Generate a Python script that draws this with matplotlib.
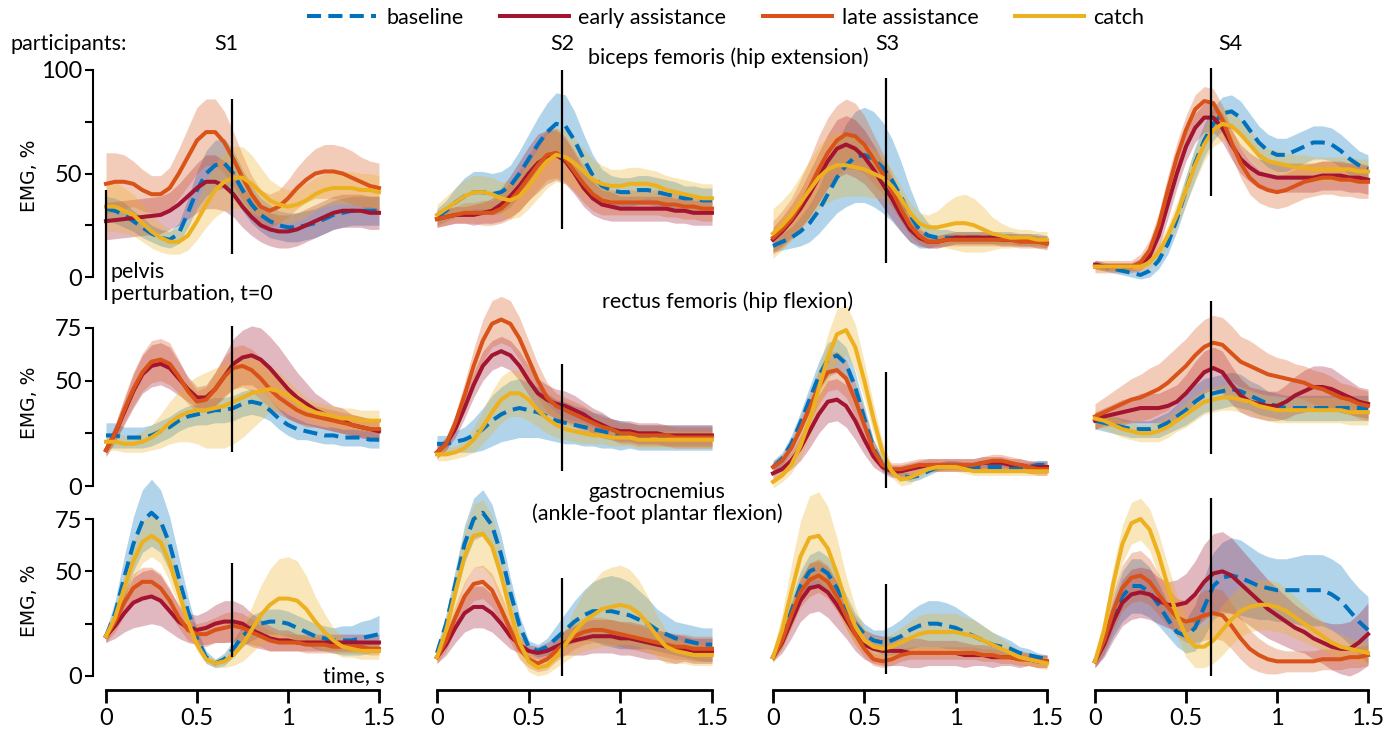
import numpy as np
import matplotlib.pyplot as plt

plt.rcParams['font.family'] = ['Lato', 'DejaVu Sans']

# time grid of the averaged EMG envelopes, s
t = np.linspace(0, 1.5, 31)

participants = ['S1', 'S2', 'S3', 'S4']
conditions = ['baseline', 'early assistance', 'late assistance', 'catch']
colors = ['#0072BD', '#A2142F', '#D95319', '#EDB120']

# ---- biceps femoris (hip extension): mean and sd per participant ----
bf_base = [
    [33, 32, 30, 27, 24, 21, 19, 18, 21, 31, 42, 50, 54, 55, 50, 42, 35, 30, 27, 25, 24, 24, 25, 26, 28, 30, 31, 32, 32, 32, 32],
    [29, 32, 36, 39, 41, 41, 40, 41, 44, 50, 57, 64, 70, 74, 73, 66, 57, 49, 44, 42, 41, 41, 42, 42, 41, 40, 39, 38, 38, 37, 37],
    [15, 17, 19, 22, 26, 32, 40, 48, 54, 58, 59, 57, 53, 47, 39, 30, 23, 20, 19, 19, 19, 19, 19, 19, 19, 19, 19, 18, 18, 18, 17],
    [6, 5, 4, 3, 2, 1, 3, 8, 16, 28, 42, 55, 66, 74, 79, 80, 77, 71, 65, 61, 59, 59, 61, 63, 65, 65, 64, 61, 57, 54, 52],
]
bf_base_sd = [
    [6, 6, 6, 5, 5, 4, 4, 4, 5, 7, 9, 11, 12, 12, 11, 10, 9, 8, 8, 7, 7, 7, 7, 7, 7, 7, 7, 7, 7, 7, 7],
    [4, 5, 7, 9, 10, 10, 10, 10, 10, 11, 12, 13, 14, 15, 15, 14, 12, 10, 8, 7, 7, 7, 7, 7, 7, 7, 7, 6, 6, 6, 6],
    [3, 4, 5, 7, 9, 11, 14, 17, 20, 22, 23, 23, 22, 20, 17, 13, 9, 6, 4, 4, 3, 3, 3, 3, 3, 3, 3, 3, 3, 3, 3],
    [2, 2, 2, 2, 2, 2, 3, 4, 5, 6, 7, 8, 8, 8, 8, 8, 8, 8, 8, 8, 8, 8, 8, 8, 8, 8, 8, 8, 8, 7, 7],
]
bf_early = [
    [27, 27.5, 28, 28.5, 29, 29.5, 30, 32, 35, 39, 43, 46, 46, 44, 40, 34, 29, 25, 23, 22, 22, 23, 25, 27, 29, 31, 32, 32, 32, 31, 31],
    [28, 29, 30, 30, 30, 31, 32, 35, 39, 44, 50, 55, 58, 59, 56, 50, 43, 38, 35, 34, 33, 33, 33, 33, 33, 33, 32, 32, 31, 31, 31],
    [18, 22, 27, 33, 40, 48, 56, 62, 64, 62, 58, 52, 45, 38, 30, 23, 19, 17, 17, 18, 19, 19, 19, 19, 19, 18, 18, 18, 18, 17, 17],
    [6, 5, 5, 5, 5, 6, 10, 20, 35, 50, 63, 72, 77, 77, 72, 64, 57, 53, 50, 49, 48, 48, 48, 48, 48, 49, 49, 49, 48, 48, 47],
]
bf_early_sd = [
    [9, 9, 9, 9, 9, 9, 9, 9, 10, 11, 12, 13, 13, 12, 11, 10, 9, 8, 8, 8, 8, 8, 8, 8, 8, 8, 8, 8, 8, 8, 8],
    [4, 4, 4, 4, 5, 5, 6, 8, 10, 12, 13, 14, 13, 12, 11, 10, 9, 8, 7, 7, 6, 6, 6, 6, 6, 6, 6, 6, 6, 6, 6],
    [6, 7, 8, 9, 11, 12, 13, 14, 14, 14, 13, 12, 11, 10, 8, 6, 4, 3, 3, 3, 3, 3, 3, 3, 3, 3, 3, 3, 3, 3, 3],
    [2, 2, 2, 2, 2, 3, 4, 6, 7, 7, 7, 7, 7, 7, 7, 7, 7, 7, 7, 7, 7, 7, 7, 7, 7, 7, 7, 7, 7, 7, 7],
]
bf_late = [
    [45, 46, 46, 45, 42, 40, 40, 43, 50, 58, 66, 70, 70, 65, 57, 48, 40, 34, 32, 34, 38, 43, 47, 50, 51, 51, 50, 48, 46, 44, 43],
    [28, 29, 30, 31, 31, 31, 31, 33, 37, 42, 48, 54, 59, 60, 57, 51, 45, 40, 37, 36, 36, 36, 36, 36, 36, 35, 35, 34, 34, 33, 33],
    [19, 23, 28, 35, 43, 52, 60, 66, 69, 68, 64, 57, 50, 42, 33, 25, 20, 17, 17, 18, 18, 18, 18, 18, 18, 18, 18, 17, 17, 17, 16],
    [5, 5, 5, 5, 5, 7, 13, 25, 42, 58, 71, 81, 85, 84, 76, 65, 55, 48, 44, 42, 41, 42, 44, 46, 47, 48, 48, 47, 47, 46, 46],
]
bf_late_sd = [
    [15, 14, 13, 11, 10, 9, 9, 10, 12, 14, 16, 16, 16, 15, 13, 11, 9, 8, 8, 8, 9, 10, 11, 12, 13, 13, 13, 13, 12, 12, 12],
    [4, 4, 4, 5, 5, 6, 6, 7, 9, 10, 11, 12, 12, 12, 11, 10, 9, 8, 7, 6, 6, 6, 6, 6, 6, 6, 6, 6, 6, 6, 6],
    [8, 9, 10, 12, 14, 16, 17, 17, 17, 16, 14, 12, 10, 8, 6, 5, 4, 3, 3, 3, 3, 3, 3, 3, 3, 3, 3, 3, 3, 3, 3],
    [3, 3, 3, 3, 3, 4, 5, 6, 7, 7, 7, 7, 7, 7, 7, 7, 7, 8, 8, 8, 8, 8, 8, 8, 8, 8, 8, 8, 8, 8, 8],
]
bf_catch = [
    [34, 34, 32, 30, 26, 22, 19, 17, 17, 20, 27, 35, 42, 46, 48, 48, 45, 41, 37, 35, 34, 35, 37, 40, 42, 43, 43, 43, 42, 42, 41],
    [30, 33, 36, 39, 41, 41, 40, 38, 37, 39, 44, 50, 56, 59, 58, 55, 51, 47, 45, 44, 44, 45, 45, 45, 44, 42, 41, 40, 39, 38, 38],
    [21, 25, 30, 36, 42, 48, 52, 54, 54, 53, 52, 50, 48, 44, 38, 31, 26, 24, 24, 25, 26, 26, 25, 23, 21, 20, 19, 19, 19, 18, 18],
    [5, 5, 5, 5, 5, 5, 7, 12, 20, 30, 42, 54, 64, 71, 74, 73, 69, 64, 59, 56, 55, 54, 53, 53, 52, 52, 52, 52, 52, 51, 51],
]
bf_catch_sd = [
    [12, 12, 11, 10, 9, 8, 7, 6, 6, 7, 9, 11, 13, 14, 15, 15, 14, 12, 10, 9, 8, 8, 8, 8, 8, 8, 8, 8, 8, 8, 8],
    [5, 6, 7, 8, 8, 8, 8, 8, 9, 10, 11, 12, 13, 13, 13, 12, 11, 10, 9, 8, 8, 8, 8, 7, 7, 7, 7, 7, 7, 7, 7],
    [12, 12, 12, 13, 14, 15, 16, 16, 15, 14, 13, 12, 10, 8, 6, 5, 5, 6, 8, 11, 13, 14, 13, 11, 8, 6, 5, 4, 4, 4, 4],
    [2, 2, 2, 2, 2, 2, 3, 4, 5, 6, 7, 8, 8, 8, 8, 8, 7, 7, 6, 6, 6, 6, 6, 6, 6, 6, 6, 6, 6, 6, 6],
]

# ---- rectus femoris (hip flexion) ----
rf_base = [
    [24, 24, 23, 23, 23, 24, 26, 28, 31, 33, 34, 35, 36, 36, 37, 39, 40, 39, 36, 32, 29, 27, 26, 25, 24, 24, 23, 23, 23, 22, 22],
    [20, 20, 21, 22, 24, 27, 31, 34, 36, 37, 36, 35, 33, 31, 30, 29, 28, 27, 26, 25, 24, 24, 23, 23, 23, 23, 23, 23, 23, 23, 23],
    [9, 13, 20, 30, 41, 52, 60, 62, 58, 47, 32, 18, 10, 7, 5, 4, 5, 7, 9, 10, 10, 9, 9, 9, 9, 9, 9, 9, 9, 10, 10],
    [31, 30, 29, 28, 27, 27, 27, 28, 30, 33, 36, 40, 43, 44, 45, 46, 45, 43, 41, 39, 38, 37, 37, 37, 37, 37, 37, 37, 37, 37, 37],
]
rf_base_sd = [
    [6, 6, 5, 5, 5, 5, 5, 5, 5, 5, 5, 6, 6, 6, 6, 6, 6, 6, 5, 5, 5, 5, 4, 4, 4, 4, 4, 4, 4, 4, 4],
    [4, 4, 5, 6, 8, 10, 12, 13, 14, 14, 13, 12, 11, 10, 10, 9, 9, 8, 8, 7, 7, 6, 6, 6, 6, 6, 6, 6, 6, 6, 6],
    [3, 3, 4, 5, 6, 7, 8, 8, 8, 7, 6, 4, 3, 2, 2, 2, 2, 2, 2, 2, 2, 2, 2, 2, 2, 2, 2, 2, 2, 2, 2],
    [4, 4, 4, 4, 4, 4, 4, 5, 5, 6, 7, 8, 8, 8, 8, 8, 8, 7, 7, 6, 6, 6, 6, 6, 6, 6, 6, 6, 6, 6, 6],
]
rf_early = [
    [17, 25, 35, 45, 53, 57, 58, 56, 51, 46, 42, 42, 46, 52, 58, 61, 62, 60, 56, 51, 46, 42, 39, 36, 34, 32, 31, 29, 28, 27, 26],
    [16, 20, 27, 37, 48, 57, 62, 64, 62, 57, 50, 44, 41, 39, 38, 36, 34, 31, 29, 27, 26, 26, 25, 25, 25, 24, 24, 24, 24, 24, 24],
    [6, 8, 12, 18, 26, 34, 40, 41, 38, 31, 22, 14, 9, 7, 7, 8, 9, 10, 10, 10, 10, 10, 10, 11, 11, 11, 10, 10, 9, 9, 9],
    [31, 33, 34, 35, 36, 37, 37, 37, 38, 40, 44, 49, 54, 56, 54, 48, 43, 40, 39, 38, 38, 40, 43, 45, 47, 47, 46, 44, 42, 40, 39],
]
rf_early_sd = [
    [3, 4, 6, 8, 9, 10, 10, 10, 8, 6, 5, 6, 8, 10, 12, 13, 14, 15, 15, 15, 14, 12, 10, 8, 7, 6, 6, 5, 5, 5, 5],
    [3, 3, 4, 5, 6, 7, 7, 7, 7, 7, 7, 7, 7, 7, 7, 7, 6, 6, 6, 5, 5, 5, 5, 5, 5, 5, 5, 5, 5, 5, 5],
    [3, 3, 4, 6, 8, 9, 10, 10, 10, 9, 7, 5, 3, 3, 3, 3, 3, 3, 3, 3, 3, 3, 3, 3, 3, 3, 3, 3, 3, 3, 3],
    [4, 4, 5, 6, 6, 7, 7, 7, 8, 8, 9, 10, 10, 10, 10, 9, 8, 7, 7, 7, 7, 8, 9, 10, 10, 10, 10, 9, 8, 7, 7],
]
rf_late = [
    [17, 25, 36, 46, 54, 59, 60, 58, 52, 45, 40, 41, 46, 52, 56, 57, 55, 51, 46, 42, 39, 36, 34, 33, 32, 31, 30, 29, 28, 27, 27],
    [16, 20, 30, 43, 57, 69, 77, 79, 77, 70, 60, 50, 42, 38, 36, 34, 32, 30, 28, 27, 25, 25, 24, 24, 24, 24, 23, 23, 23, 23, 23],
    [9, 12, 18, 27, 37, 47, 54, 55, 51, 41, 29, 17, 10, 8, 8, 9, 10, 10, 10, 10, 10, 10, 10, 11, 12, 12, 11, 10, 9, 8, 8],
    [33, 35, 37, 39, 41, 42, 44, 46, 49, 53, 57, 62, 66, 68, 67, 63, 59, 57, 55, 53, 52, 51, 50, 49, 47, 46, 44, 42, 41, 39, 38],
]
rf_late_sd = [
    [3, 4, 6, 8, 9, 10, 10, 10, 8, 6, 5, 6, 8, 9, 10, 10, 10, 10, 9, 8, 7, 6, 6, 5, 5, 5, 5, 5, 5, 5, 5],
    [3, 3, 4, 6, 8, 10, 11, 11, 11, 10, 9, 8, 7, 6, 6, 6, 6, 5, 5, 5, 5, 5, 5, 5, 5, 5, 5, 5, 5, 5, 5],
    [3, 3, 4, 6, 7, 8, 9, 9, 9, 8, 7, 5, 3, 3, 3, 3, 3, 3, 3, 3, 3, 3, 3, 3, 3, 3, 3, 3, 3, 3, 3],
    [6, 7, 8, 9, 10, 11, 12, 12, 13, 13, 13, 13, 13, 13, 13, 13, 12, 12, 11, 10, 9, 9, 8, 8, 8, 8, 8, 7, 7, 7, 7],
]
rf_catch = [
    [21, 21, 20, 20, 21, 23, 26, 30, 33, 35, 36, 36, 37, 38, 40, 42, 44, 45, 46, 45, 43, 40, 37, 35, 34, 33, 32, 32, 31, 31, 31],
    [15, 15, 16, 18, 22, 28, 35, 41, 44, 44, 41, 36, 32, 29, 27, 26, 25, 24, 24, 23, 23, 23, 22, 22, 22, 22, 22, 22, 22, 22, 22],
    [2, 5, 10, 19, 31, 46, 61, 72, 74, 66, 50, 32, 16, 7, 3, 4, 6, 8, 9, 9, 9, 8, 7, 7, 7, 7, 7, 7, 7, 7, 7],
    [32, 31, 29, 27, 26, 25, 25, 26, 28, 31, 34, 37, 40, 41, 42, 42, 41, 40, 38, 37, 36, 36, 36, 36, 36, 36, 36, 36, 35, 35, 35],
]
rf_catch_sd = [
    [4, 4, 4, 4, 5, 6, 8, 10, 12, 14, 16, 18, 19, 20, 20, 19, 17, 14, 11, 9, 7, 6, 5, 5, 5, 5, 5, 5, 5, 5, 5],
    [3, 3, 3, 4, 6, 8, 10, 11, 11, 11, 10, 8, 7, 6, 5, 5, 5, 4, 4, 4, 4, 4, 4, 4, 4, 4, 4, 4, 4, 4, 4],
    [3, 3, 4, 6, 8, 10, 11, 12, 12, 11, 9, 7, 5, 3, 3, 3, 2, 2, 2, 2, 2, 2, 2, 2, 2, 2, 2, 2, 2, 2, 2],
    [4, 4, 4, 4, 4, 4, 4, 5, 5, 5, 6, 6, 6, 6, 6, 6, 6, 6, 6, 6, 6, 6, 6, 6, 6, 6, 6, 6, 6, 6, 6],
]

# ---- gastrocnemius (ankle-foot plantar flexion) ----
gm_base = [
    [19, 30, 47, 63, 74, 78, 74, 63, 47, 31, 18, 9, 6, 8, 13, 19, 23, 25, 26, 26, 25, 23, 21, 19, 18, 17, 17, 17, 18, 19, 20],
    [11, 25, 44, 63, 75, 78, 72, 58, 40, 24, 14, 12, 14, 18, 22, 26, 29, 31, 31, 31, 30, 29, 27, 25, 22, 20, 18, 17, 16, 15, 15],
    [9, 18, 31, 43, 50, 52, 49, 42, 33, 25, 20, 17, 16, 17, 19, 22, 24, 25, 25, 24, 23, 21, 19, 17, 15, 14, 13, 11, 10, 9, 8],
    [7, 16, 28, 38, 43, 43, 40, 34, 27, 21, 19, 23, 33, 43, 47, 48, 47, 45, 43, 42, 41, 41, 41, 41, 41, 41, 39, 36, 31, 26, 22],
]
gm_base_sd = [
    [3, 6, 10, 13, 15, 16, 15, 13, 10, 7, 4, 3, 2, 3, 4, 5, 6, 6, 6, 6, 6, 6, 6, 6, 6, 6, 7, 7, 8, 8, 9],
    [3, 5, 7, 9, 10, 11, 10, 9, 7, 5, 3, 3, 4, 6, 8, 10, 12, 14, 16, 17, 17, 16, 14, 12, 10, 9, 8, 8, 8, 8, 8],
    [2, 4, 6, 7, 8, 8, 8, 7, 6, 5, 5, 5, 6, 7, 8, 9, 10, 11, 11, 11, 10, 9, 8, 7, 6, 5, 4, 3, 3, 2, 2],
    [3, 6, 9, 12, 13, 13, 12, 10, 8, 7, 8, 11, 14, 16, 17, 18, 18, 17, 16, 15, 15, 15, 16, 17, 17, 17, 17, 17, 16, 16, 16],
]
gm_early = [
    [19, 24, 30, 35, 37, 38, 36, 31, 26, 23, 22, 23, 25, 26, 26, 25, 22, 20, 18, 17, 17, 16, 16, 16, 16, 16, 16, 16, 16, 16, 16],
    [9, 15, 23, 30, 33, 33, 30, 25, 19, 15, 12, 11, 12, 14, 16, 17, 18, 19, 19, 19, 18, 18, 17, 16, 15, 14, 13, 13, 12, 12, 12],
    [9, 16, 26, 36, 42, 43, 40, 34, 27, 20, 15, 13, 12, 12, 12, 11, 11, 11, 11, 11, 11, 10, 10, 10, 9, 9, 9, 8, 8, 7, 7],
    [7, 15, 26, 35, 39, 40, 39, 36, 34, 34, 35, 39, 45, 49, 50, 48, 44, 40, 36, 32, 29, 26, 23, 21, 18, 16, 14, 13, 13, 16, 20],
]
gm_early_sd = [
    [3, 6, 9, 12, 13, 13, 12, 10, 8, 7, 7, 8, 9, 10, 10, 9, 8, 7, 6, 5, 5, 4, 4, 4, 4, 4, 4, 4, 4, 4, 4],
    [3, 5, 7, 9, 10, 10, 9, 8, 6, 4, 3, 3, 4, 5, 6, 7, 8, 8, 8, 8, 8, 8, 8, 8, 7, 7, 7, 6, 6, 6, 6],
    [2, 5, 8, 10, 12, 12, 12, 11, 9, 8, 7, 7, 7, 7, 7, 7, 7, 6, 6, 6, 6, 6, 5, 5, 5, 4, 4, 4, 3, 3, 3],
    [3, 6, 9, 11, 12, 12, 12, 11, 11, 12, 14, 16, 18, 19, 19, 18, 17, 16, 15, 14, 13, 12, 11, 10, 10, 10, 11, 12, 13, 14, 15],
]
gm_late = [
    [19, 26, 35, 42, 45, 45, 42, 36, 28, 22, 20, 20, 22, 23, 24, 23, 21, 19, 17, 16, 16, 16, 15, 15, 15, 14, 14, 14, 14, 13, 13],
    [9, 17, 28, 38, 44, 45, 41, 32, 22, 13, 8, 6, 8, 12, 16, 19, 21, 22, 22, 21, 20, 19, 18, 17, 16, 15, 14, 14, 13, 13, 13],
    [9, 17, 29, 40, 46, 48, 45, 38, 29, 20, 13, 8, 7, 8, 10, 11, 11, 11, 11, 11, 11, 11, 11, 10, 10, 9, 9, 8, 8, 7, 7],
    [7, 17, 31, 42, 47, 48, 45, 39, 33, 28, 26, 27, 29, 30, 29, 24, 18, 13, 10, 8, 7, 7, 7, 7, 7, 8, 8, 8, 9, 9, 10],
]
gm_late_sd = [
    [3, 5, 6, 7, 7, 7, 7, 6, 5, 5, 5, 6, 6, 7, 7, 7, 6, 5, 5, 4, 4, 4, 4, 4, 4, 3, 3, 3, 3, 3, 3],
    [3, 5, 6, 7, 8, 8, 8, 7, 6, 5, 4, 4, 5, 5, 6, 6, 6, 6, 6, 6, 6, 6, 6, 6, 6, 6, 6, 6, 6, 6, 6],
    [2, 4, 6, 7, 8, 8, 8, 7, 6, 5, 4, 3, 3, 3, 3, 3, 3, 3, 3, 3, 3, 3, 3, 3, 3, 3, 3, 3, 3, 3, 3],
    [3, 6, 9, 11, 12, 12, 11, 10, 9, 9, 10, 11, 12, 12, 12, 11, 10, 9, 8, 7, 6, 5, 5, 5, 5, 5, 5, 5, 5, 5, 5],
]
gm_catch = [
    [19, 28, 42, 55, 64, 67, 64, 54, 40, 26, 15, 8, 6, 7, 10, 15, 22, 29, 34, 37, 37, 36, 32, 26, 21, 17, 14, 13, 12, 12, 12],
    [9, 22, 40, 57, 67, 68, 62, 48, 31, 16, 7, 4, 5, 9, 15, 21, 26, 29, 32, 33, 34, 33, 30, 25, 19, 14, 12, 11, 10, 10, 10],
    [9, 22, 40, 57, 66, 67, 61, 49, 35, 24, 17, 14, 13, 14, 16, 18, 20, 21, 21, 21, 21, 20, 19, 17, 15, 13, 11, 9, 8, 7, 6],
    [7, 22, 44, 63, 73, 75, 70, 58, 43, 29, 19, 14, 14, 17, 22, 27, 31, 33, 34, 34, 33, 31, 28, 25, 22, 19, 16, 14, 13, 12, 11],
]
gm_catch_sd = [
    [3, 5, 7, 9, 10, 10, 10, 9, 7, 5, 3, 2, 2, 3, 5, 8, 11, 14, 17, 19, 20, 19, 16, 12, 9, 6, 5, 4, 4, 4, 4],
    [3, 6, 10, 13, 15, 16, 15, 13, 10, 7, 5, 4, 4, 5, 8, 11, 14, 16, 18, 19, 19, 18, 16, 13, 10, 8, 6, 5, 5, 5, 5],
    [3, 8, 13, 17, 20, 21, 20, 17, 13, 9, 6, 5, 5, 6, 7, 8, 9, 9, 9, 9, 9, 8, 8, 7, 6, 5, 4, 3, 3, 3, 3],
    [3, 6, 8, 9, 10, 10, 10, 10, 10, 10, 10, 10, 10, 11, 12, 12, 12, 12, 12, 12, 12, 11, 10, 9, 8, 7, 6, 6, 5, 5, 5],
]

# assistance switch time per participant (s) and the extent of the marker per muscle (EMG %)
switch_t = [0.69, 0.68, 0.62, 0.64]
bf_switch = [(11, 86), (23, 100), (7, 96), (39, 101)]
rf_switch = [(16, 76), (7, 58), (-1, 54), (15, 88)]
gm_switch = [(9, 54), (0, 47), (1, 44), (0, 85)]

rows = [
    ([bf_base, bf_early, bf_late, bf_catch], [bf_base_sd, bf_early_sd, bf_late_sd, bf_catch_sd], bf_switch),
    ([rf_base, rf_early, rf_late, rf_catch], [rf_base_sd, rf_early_sd, rf_late_sd, rf_catch_sd], rf_switch),
    ([gm_base, gm_early, gm_late, gm_catch], [gm_base_sd, gm_early_sd, gm_late_sd, gm_catch_sd], gm_switch),
]

# ---- layout (pixel based) ----
W, H = 1396, 730
fig = plt.figure(figsize=(W / 100, H / 100), dpi=100)

col_left = [106, 437, 773, 1095]
col_width = [273, 275, 274, 273]
row_zero = [277, 486, 676]
row_scale = [2.07, 2.107, 2.093]
y_lo, y_hi = -14, 106
row_ticks = [[0, 25, 50, 75, 100], [0, 25, 50, 75], [0, 25, 50, 75]]
row_ticklabels = [['0', '', '50', '', '100'], ['0', '', '50', '75'], ['0', '', '50', '75']]
ylabel_px = [176, 403, 601]

handles = []
for r, (means, sds, spans) in enumerate(rows):
    for c in range(4):
        bottom_px = row_zero[r] - y_lo * row_scale[r]
        top_px = row_zero[r] - y_hi * row_scale[r]
        ax = fig.add_axes([col_left[c] / W, 1 - bottom_px / H,
                           col_width[c] / W, (bottom_px - top_px) / H])
        ax.set_xlim(0, 1.5)
        ax.set_ylim(y_lo, y_hi)
        ax.patch.set_alpha(0)
        for s in ax.spines.values():
            s.set_visible(False)
        ax.set_xticks([])
        ax.set_yticks([])

        for k in range(4):
            m = np.array(means[k][c], dtype=float)
            sd = np.array(sds[k][c], dtype=float)
            ax.fill_between(t, m - sd, m + sd, color=colors[k], alpha=0.3,
                            lw=0, clip_on=False)
            ls = (0, (3.5, 1.8)) if k == 0 else '-'
            ln, = ax.plot(t, m, color=colors[k], lw=2.9, ls=ls,
                          solid_joinstyle='round', clip_on=False,
                          label=conditions[k])
            if r == 0 and c == 0:
                handles.append(ln)

        lo, hi = spans[c]
        ax.vlines(switch_t[c], lo, hi, color='black', lw=1.6, zorder=10,
                  clip_on=False)

        if c == 0:
            ax.spines['left'].set_visible(True)
            ax.spines['left'].set_position(('outward', 9.4))
            ax.spines['left'].set_bounds(0, row_ticks[r][-1])
            ax.spines['left'].set_linewidth(1.5)
            ax.set_yticks(row_ticks[r])
            ax.set_yticklabels(row_ticklabels[r])
            ax.tick_params(axis='y', length=6, width=1.5, pad=2, labelsize=17)
            fig.text(30 / W, 1 - ylabel_px[r] / H, 'EMG, %', rotation=90,
                     ha='center', va='center', fontsize=13.5,
                     family='DejaVu Sans')

        if r == 2:
            ax.spines['bottom'].set_visible(True)
            ax.spines['bottom'].set_position(('data', -6.7))
            ax.spines['bottom'].set_bounds(0, 1.5)
            ax.spines['bottom'].set_linewidth(2)
            ax.set_xticks([0, 0.5, 1, 1.5])
            ax.set_xticklabels(['0', '0.5', '1', '1.5'])
            ax.tick_params(axis='x', length=9, width=2, pad=4, labelsize=17)

        if r == 0 and c == 0:
            # pelvis perturbation onset marker
            ax.vlines(0, -11, 42, color='black', lw=1.6, zorder=10, clip_on=False)

# ---- annotations ----
def ftext(x, y, s, **kw):
    fig.text(x / W, 1 - y / H, s, va='center', **kw)

ftext(10, 44, 'participants:', ha='left', fontsize=15.5)
for name, xp in zip(participants, [226, 562, 887, 1230]):
    ftext(xp, 44, name, ha='center', fontsize=15.5)
ftext(728, 58, 'biceps femoris (hip extension)', ha='center', fontsize=15.5)
ftext(728, 302, 'rectus femoris (hip flexion)', ha='center', fontsize=15.5)
ftext(657, 492, 'gastrocnemius', ha='center', fontsize=15.5)
ftext(657, 514, '(ankle-foot plantar flexion)', ha='center', fontsize=15.5)
ftext(111, 272, 'pelvis', ha='left', fontsize=15.5)
ftext(111, 294, 'perturbation, t=0', ha='left', fontsize=15.5)
ftext(385, 676, 'time, s', ha='right', fontsize=15.5)

fig.legend(handles, conditions, loc='center', bbox_to_anchor=(726 / W, 1 - 18 / H),
           ncol=4, frameon=False, fontsize=15.5, handlelength=3.2,
           handletextpad=0.45, columnspacing=1.7)

fig.savefig('out.png', dpi=100)
